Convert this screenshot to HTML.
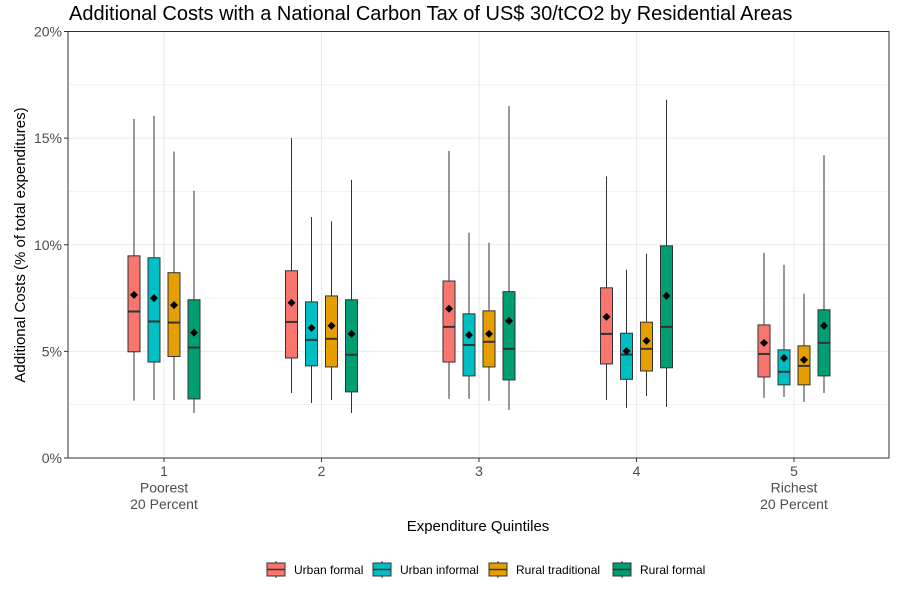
<!DOCTYPE html>
<html><head><meta charset="utf-8">
<style>
body{margin:0;background:#fff;}
svg{display:block;font-family:"Liberation Sans",Arial,sans-serif;}
</style></head>
<body>
<svg id="chart" width="900" height="591" viewBox="0 0 900 591">
<text x="69" y="20" font-size="20" fill="#000">Additional Costs with a National Carbon Tax of US$ 30/tCO2 by Residential Areas</text>
<g id="grid"></g>
<g id="marks"></g>
<rect x="68" y="31.5" width="821" height="426.5" fill="none" stroke="#333" stroke-width="1"/>
<g id="axes"></g>
<text x="478" y="531" font-size="15" text-anchor="middle" fill="#000">Expenditure Quintiles</text>
<text transform="translate(25,245) rotate(-90)" font-size="15" text-anchor="middle" fill="#000">Additional Costs (% of total expenditures)</text>
<g id="legend"></g>
</svg>
<script>
const categories = ["1","2","3","4","5"];
const catLabels = [["1","Poorest","20 Percent"],["2"],["3"],["4"],["5","Richest","20 Percent"]];
const seriesNames = ["Urban formal","Urban informal","Rural traditional","Rural formal"];
const seriesColors = ["#F8766D","#00BFC4","#E69F00","#009E73"];
const yTicks = [0,5,10,15,20];
// per series: arrays over quintiles
const whiskerLow = [[2.69,3.05,2.77,2.72,2.82],[2.72,2.58,2.77,2.35,2.86],[2.72,2.72,2.68,2.91,2.63],[2.11,2.11,2.25,2.39,3.05]];
const q1 = [[4.98,4.69,4.5,4.41,3.8],[4.5,4.32,3.85,3.69,3.43],[4.76,4.27,4.27,4.08,3.43],[2.77,3.1,3.66,4.23,3.85]];
const median = [[6.87,6.38,6.15,5.82,4.88],[6.4,5.54,5.3,4.85,4.04],[6.35,5.59,5.45,5.12,4.32],[5.18,4.84,5.12,6.15,5.4]];
const q3 = [[9.48,8.78,8.3,7.98,6.24],[9.39,7.32,6.76,5.85,5.07],[8.69,7.6,6.9,6.37,5.26],[7.42,7.42,7.8,9.95,6.95]];
const whiskerHigh = [[15.9,15.0,14.4,13.2,9.62],[16.05,11.3,10.56,8.83,9.06],[14.37,11.1,10.1,9.58,7.7],[12.54,13.05,16.5,16.8,14.2]];
const means = [[7.65,7.28,7.0,6.62,5.4],[7.5,6.1,5.77,5.02,4.69],[7.17,6.2,5.82,5.49,4.6],[5.88,5.82,6.43,7.6,6.2]];

const NS="http://www.w3.org/2000/svg";
const y0=458, yTop=31.5, yMax=20;
function yScale(v){return y0-(v/yMax)*(y0-yTop);}
function xScale(i){return 164+i*157.5;}
const offs=[-30,-10,10,30], bw=12;
function mk(tag,attrs,parent){const e=document.createElementNS(NS,tag);for(const k in attrs)e.setAttribute(k,attrs[k]);parent.appendChild(e);return e;}
const grid=document.getElementById('grid'), marks=document.getElementById('marks'), axes=document.getElementById('axes'), legend=document.getElementById('legend');
for(let v=0; v<=yMax; v+=2.5){
  const l=mk('line',{x1:68,x2:889,y1:yScale(v),y2:yScale(v),stroke:'#ebebeb','stroke-width':(v%5===0)?1.1:0.6},grid);
  
  
}
categories.forEach((c,i)=>{
  const l=mk('line',{x1:xScale(i),x2:xScale(i),y1:yTop,y2:y0,stroke:'#ebebeb','stroke-width':1.1},grid);
  
  
});
yTicks.forEach(v=>{
  const t=mk('text',{x:62,y:yScale(v)+5,'font-size':14,'text-anchor':'end',fill:'#4d4d4d'},axes);
  t.textContent=v+'%';
  
  
  const k=mk('line',{x1:64,x2:68,y1:yScale(v),y2:yScale(v),stroke:'#333'},axes);
  
  
});
categories.forEach((c,i)=>{
  const k=mk('line',{x1:xScale(i),x2:xScale(i),y1:y0,y2:y0+4,stroke:'#333'},axes);
  
  
  catLabels[i].forEach((s,j)=>{
    const t=mk('text',{x:xScale(i),y:476+j*16.5,'font-size':14,'text-anchor':'middle',fill:'#4d4d4d'},axes);
    t.textContent=s;
    
    
  });
});
seriesNames.forEach((s,si)=>{
  categories.forEach((c,i)=>{
    const cx=xScale(i)+offs[si];
    const g=mk('g',{},marks);
    
    
    mk('line',{x1:cx,x2:cx,y1:yScale(whiskerHigh[si][i]),y2:yScale(whiskerLow[si][i]),stroke:'#333','stroke-width':1},g);
    mk('rect',{x:cx-bw/2,y:yScale(q3[si][i]),width:bw,height:yScale(q1[si][i])-yScale(q3[si][i]),fill:seriesColors[si],stroke:'#333','stroke-width':1},g);
    mk('line',{x1:cx-bw/2,x2:cx+bw/2,y1:yScale(median[si][i]),y2:yScale(median[si][i]),stroke:'#333','stroke-width':2},g);
    const my=yScale(means[si][i]);
    mk('path',{d:`M${cx} ${my-4}L${cx+4} ${my}L${cx} ${my+4}L${cx-4} ${my}Z`,fill:'#000'},g);
  });
});
const lx=[267,373,489,613];
seriesNames.forEach((s,si)=>{
  const g=mk('g',{},legend);
  
  
  const x=lx[si];
  mk('line',{x1:x+9,x2:x+9,y1:561,y2:578,stroke:'#333'},g);
  mk('rect',{x:x,y:563,width:18,height:13,fill:seriesColors[si],stroke:'#333'},g);
  mk('line',{x1:x,x2:x+18,y1:569.5,y2:569.5,stroke:'#333','stroke-width':1.5},g);
  const t=mk('text',{x:x+27,y:574,'font-size':12,fill:'#000'},g);
  t.textContent=s;
});
</script>
</body></html>
